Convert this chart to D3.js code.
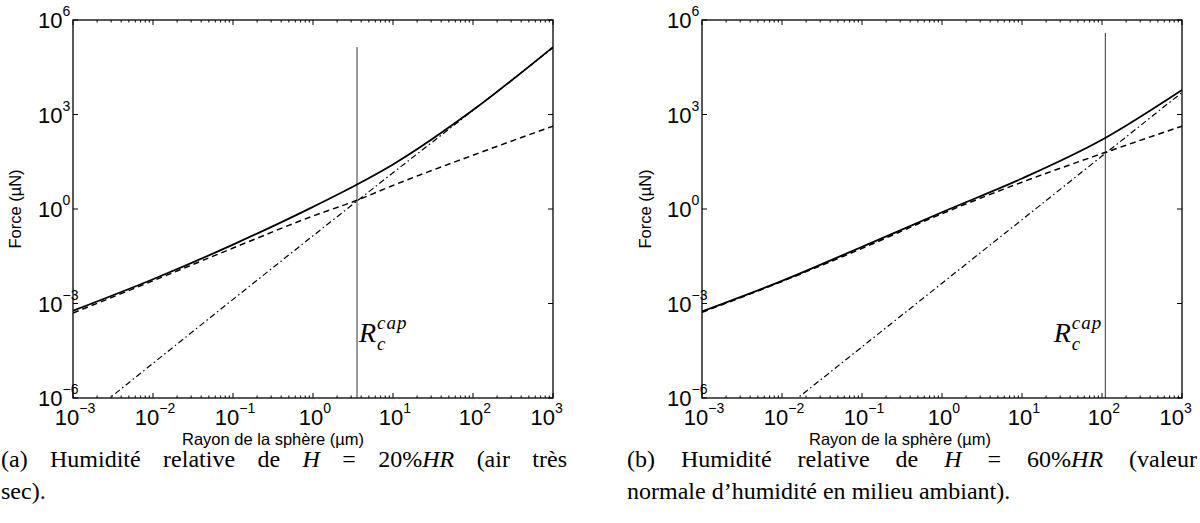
<!DOCTYPE html>
<html><head><meta charset="utf-8">
<script src="https://cdn.jsdelivr.net/npm/d3@7/dist/d3.min.js"></script>
<style>body{margin:0;background:#fff;} svg{display:block;}</style>
</head><body>
<svg id="chart" width="1200" height="523"></svg>
<script>
// ---------- data ----------
const radiusTicks = [1e-3, 1e-2, 1e-1, 1, 10, 100, 1000];
const radiusTickExp = ["\u22123", "\u22122", "\u22121", "0", "1", "2", "3"];
const forceTicks = [1e-6, 1e-3, 1, 1e3, 1e6];
const forceTickExp = ["\u22126", "\u22123", "0", "3", "6"];
const xLabel = "Rayon de la sphère (µm)";
const yLabel = "Force (µN)";

// panel (a) H = 20 %HR
const radiusA      = [0.001, 0.01, 0.1, 1, 3.55, 10, 100, 1000];
const totalA       = [5.9e-4, 5.9e-3, 0.074, 1.17, 6.0, 26, 1380, 1.38e5];
const capillaryA   = [5.0e-4, 5.25e-3, 0.0575, 0.60, 1.9, 5.6, 51, 427];
const radiusDashDotA = [0.001, 0.01, 0.1, 1, 10, 100, 1000];
const dashDotA     = [1.17e-7, 1.26e-5, 1.35e-3, 0.141, 14.1, 1350, 1.32e5];
const rcA = 3.55, rcTopA = 1.38e5;

// panel (b) H = 60 %HR
const radiusB      = [0.001, 0.01, 0.1, 1, 10, 100, 1000];
const totalB       = [5.6e-4, 5.25e-3, 0.063, 0.79, 9.3, 158, 6030];
const capillaryB   = [5.25e-4, 5.0e-3, 0.056, 0.71, 7.1, 57.5, 427];
const radiusDashDotB = [0.01, 0.1, 1, 10, 100, 1000];
const dashDotB     = [4.0e-7, 4.2e-5, 4.4e-3, 0.457, 47.9, 5010];
const rcB = 110, rcTopB = 3.9e5;

// ---------- drawing ----------
const svg = d3.select("#chart");
const sans = "'Liberation Sans', Arial, sans-serif";
const serif = "'Liberation Serif', 'Times New Roman', serif";
const tickSize = 22, expSize = 14;

function zip(xs, ys){ return xs.map((r,i)=>({r:r, f:ys[i]})); }

function panel(id, left, top, w, h, series, rc, rcTop, rcLabelSide, xLabelCenter, yLabelX){
  const g = svg.append("g");
  const x = d3.scaleLog().domain([1e-3, 1e3]).range([left, left + w]);
  const y = d3.scaleLog().domain([1e-6, 1e6]).range([top + h, top]);

  const clipId = "clip" + id;
  svg.append("clipPath").attr("id", clipId).append("rect")
    .attr("x", left).attr("y", top).attr("width", w).attr("height", h);

  const plot = g.append("g").attr("clip-path", `url(#${clipId})`);
  const line = d3.line().x(d => x(d.r)).y(d => y(d.f)).curve(d3.curveMonotoneX);

  plot.append("line")
    .attr("x1", x(rc)).attr("x2", x(rc))
    .attr("y1", y(rcTop)).attr("y2", y(1e-6))
    .attr("stroke", "#333").attr("stroke-width", 1);

  series.forEach(s => {
    plot.append("path").attr("d", line(s.data))
      .attr("fill", "none").attr("stroke", "#000")
      .attr("stroke-width", s.width)
      .attr("stroke-dasharray", s.dash || null);
  });

  g.append("rect").attr("x", left).attr("y", top).attr("width", w).attr("height", h)
    .attr("fill", "none").attr("stroke", "#000").attr("stroke-width", 1.3);

  const minor = [];
  for (let d = -3; d < 3; d++) for (let k = 2; k <= 9; k++) minor.push(k * Math.pow(10, d));
  const tg = g.append("g").attr("stroke", "#000").attr("stroke-width", 1);
  radiusTicks.forEach(t => {
    tg.append("line").attr("x1", x(t)).attr("x2", x(t)).attr("y1", top + h).attr("y2", top + h - 5);
    tg.append("line").attr("x1", x(t)).attr("x2", x(t)).attr("y1", top).attr("y2", top + 5);
  });
  minor.forEach(t => {
    tg.append("line").attr("x1", x(t)).attr("x2", x(t)).attr("y1", top + h).attr("y2", top + h - 2.5);
    tg.append("line").attr("x1", x(t)).attr("x2", x(t)).attr("y1", top).attr("y2", top + 2.5);
  });
  forceTicks.forEach(t => {
    tg.append("line").attr("x1", left).attr("x2", left + 5).attr("y1", y(t)).attr("y2", y(t));
    tg.append("line").attr("x1", left + w).attr("x2", left + w - 5).attr("y1", y(t)).attr("y2", y(t));
  });

  // x tick labels
  radiusTicks.forEach((t, i) => {
    const last = i === radiusTicks.length - 1;
    const tx = g.append("text").attr("y", top + h + 27)
      .attr("font-family", sans).attr("font-size", tickSize);
    const base = tx.append("tspan").text("10");
    tx.append("tspan").attr("dy", -12).attr("font-size", expSize).text(radiusTickExp[i]);
    if (last) {
      const bw = base.node().getComputedTextLength();
      tx.attr("x", x(t) - bw + 2);
    } else {
      tx.attr("x", x(t) + 2).attr("text-anchor", "middle");
    }
  });
  // y tick labels
  forceTicks.forEach((t, i) => {
    const ty = g.append("text").attr("x", left - 35).attr("y", y(t) + 8)
      .attr("font-family", sans).attr("font-size", tickSize);
    ty.append("tspan").text("10");
    ty.append("tspan").attr("dy", -12).attr("font-size", expSize).text(forceTickExp[i]);
  });

  g.append("text").attr("x", xLabelCenter).attr("y", top + h + 47)
    .attr("text-anchor", "middle").attr("font-family", sans).attr("font-size", 16.5).text(xLabel);
  g.append("text").attr("transform", `translate(${yLabelX},${top + h / 2}) rotate(-90)`)
    .attr("text-anchor", "middle").attr("font-family", sans).attr("font-size", 16.5).text(yLabel);

  // R_c^cap label
  const rx = x(rc);
  const baseY = 342;
  const lg = g.append("g");
  const lt = lg.append("text").attr("x", 0).attr("y", baseY)
    .attr("font-family", serif).attr("font-style", "italic");
  lt.append("tspan").attr("font-size", 28).text("R");
  const capStart = 18;
  lt.append("tspan").attr("x", capStart).attr("y", baseY - 13).attr("font-size", 19)
    .attr("letter-spacing", 1).text("cap");
  lt.append("tspan").attr("x", capStart).attr("y", baseY + 8).attr("font-size", 19).text("c");
  if (rcLabelSide === "right") {
    lg.attr("transform", `translate(${rx + 2},0)`);
  } else {
    const wdt = lt.node().getBBox().width;
    lg.attr("transform", `translate(${rx - 2 - wdt},0)`);
  }
}

panel("a", 73, 20, 480, 378, [
  {data: zip(radiusDashDotA, dashDotA), width: 1.2, dash: "6,3,1.5,3"},
  {data: zip(radiusA, capillaryA), width: 1.5, dash: "6,4"},
  {data: zip(radiusA, totalA), width: 1.8}
], rcA, rcTopA, "right", 273, 21);

panel("b", 702, 20, 480, 378, [
  {data: zip(radiusDashDotB, dashDotB), width: 1.2, dash: "6,3,1.5,3"},
  {data: zip(radiusB, capillaryB), width: 1.5, dash: "6,4"},
  {data: zip(radiusB, totalB), width: 1.8}
], rcB, rcTopB, "left", 900, 651);

// ---------- captions ----------
const capSize = 24;
function captionLine(x0, x1, yBase, words, justify){
  const items = words.map(segs => {
    const t = svg.append("text").attr("y", yBase).attr("font-family", serif).attr("font-size", capSize);
    segs.forEach(s => t.append("tspan").attr("font-style", s.i ? "italic" : "normal").text(s.t));
    return t;
  });
  const widths = items.map(t => t.node().getComputedTextLength());
  const total = d3.sum(widths);
  const gap = justify ? (x1 - x0 - total) / (items.length - 1) : capSize * 0.25;
  let cx = x0;
  items.forEach((t, i) => { t.attr("x", cx); cx += widths[i] + gap; });
}
const W = s => [{t: s}];
const I = s => [{t: s, i: true}];

captionLine(1, 567, 467, [W("(a)"), W("Humidité"), W("relative"), W("de"), I("H"), W("="),
  [{t: "20%"}, {t: "HR", i: true}], W("(air"), W("très")], true);
captionLine(1, 567, 499, [W("sec).")], false);
captionLine(627, 1197, 467, [W("(b)"), W("Humidité"), W("relative"), W("de"), I("H"), W("="),
  [{t: "60%"}, {t: "HR", i: true}], W("(valeur")], true);
captionLine(627, 1197, 499, [W("normale"), W("d\u2019humidité"), W("en"), W("milieu"), W("ambiant).")], false);
</script>
</body></html>
